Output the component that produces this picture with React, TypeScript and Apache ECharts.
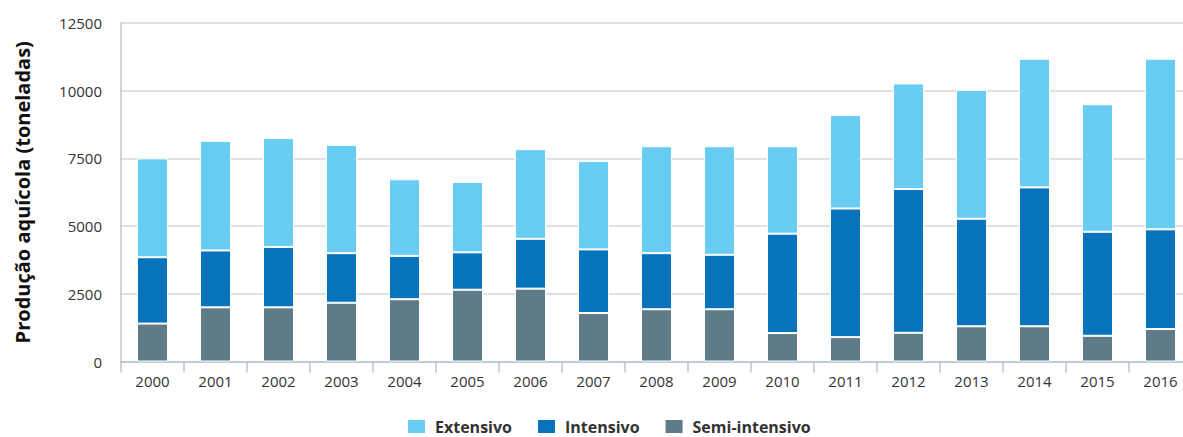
import React, { useEffect, useRef } from "react";
import * as echarts from "echarts";

const years = ["2000","2001","2002","2003","2004","2005","2006","2007","2008","2009","2010","2011","2012","2013","2014","2015","2016"];
// cumulative tops
const totalTop = [7500, 8150, 8250, 8000, 6730, 6630, 7840, 7400, 7950, 7950, 7950, 9100, 10270, 10030, 11180, 9500, 11180];
const intensiveTop = [3850, 4100, 4230, 4000, 3900, 4030, 4530, 4140, 4000, 3940, 4720, 5650, 6370, 5270, 6430, 4790, 4880];
const semiIntensive = [1400, 2000, 2000, 2170, 2300, 2650, 2690, 1790, 1930, 1930, 1050, 900, 1060, 1300, 1300, 950, 1200];
const intensive = intensiveTop.map((v, i) => v - semiIntensive[i]);
const extensive = totalTop.map((v, i) => v - intensiveTop[i]);

const FONT = "'Open Sans', 'Noto Sans', sans-serif";

export default function App() {
  const ref = useRef<HTMLDivElement>(null);
  useEffect(() => {
    if (!ref.current) return;
    const chart = echarts.init(ref.current, null, { renderer: "svg" });
    const item = (color: string) => ({ color, borderColor: "#ffffff", borderWidth: 1 });
    chart.setOption({
      animation: false,
      grid: { left: 121, right: 8, top: 23, bottom: 75.5 },
      legend: {
        bottom: 2,
        left: 406,
        padding: 0,
        data: ["Extensivo", "Intensivo", "Semi-intensivo"],
        icon: "rect",
        itemWidth: 19,
        itemHeight: 15,
        itemGap: 24,
        textStyle: { fontFamily: FONT, fontWeight: "bold", fontSize: 16, color: "#333", padding: [0, 0, 0, 4] },
      },
      xAxis: {
        type: "category",
        data: years,
        axisLine: { lineStyle: { color: "#b8c4d0", width: 1.5 } },
        axisTick: { show: true, length: 11, lineStyle: { color: "#b8c4d0", width: 1.5 } },
        axisLabel: { fontFamily: FONT, fontSize: 15, color: "#333", margin: 12 },
      },
      yAxis: {
        type: "value",
        min: 0,
        max: 12500,
        interval: 2500,
        name: "Produção aquícola (toneladas)",
        nameLocation: "middle",
        nameGap: 89,
        nameTextStyle: { fontFamily: FONT, fontWeight: "bold", fontSize: 20, color: "#111" },
        axisLine: { show: true, lineStyle: { color: "#c4c4c4", width: 1.5 } },
        axisTick: { show: false },
        axisLabel: { fontFamily: FONT, fontSize: 15, color: "#333", margin: 19, formatter: (v: number) => String(v) },
        splitLine: { lineStyle: { color: "#d6d6d6", width: 1.5 } },
      },
      series: [
        { name: "Semi-intensivo", type: "bar", stack: "t", barWidth: 31, data: semiIntensive, itemStyle: item("#607b88") },
        { name: "Intensivo", type: "bar", stack: "t", barWidth: 31, data: intensive, itemStyle: item("#0773bc") },
        { name: "Extensivo", type: "bar", stack: "t", barWidth: 31, data: extensive, itemStyle: item("#69cdf3") },
      ],
    });
    return () => chart.dispose();
  }, []);
  return (
    <div style={{ position: "fixed", left: 0, top: 0, width: 1183, height: 437, overflow: "hidden", background: "#fff" }}>
      <div ref={ref} style={{ width: 1200, height: 437 }} />
    </div>
  );
}
